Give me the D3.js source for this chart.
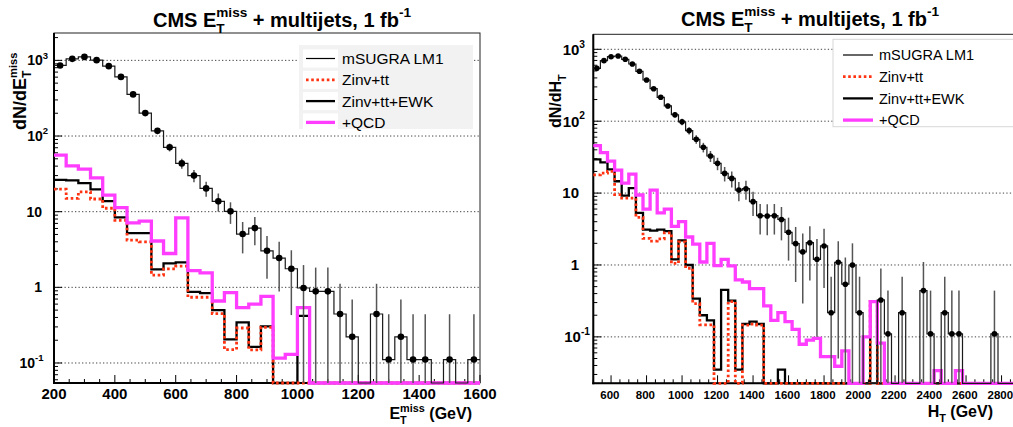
<!DOCTYPE html>
<html><head><meta charset="utf-8">
<script src="https://cdn.jsdelivr.net/npm/d3@7"></script>
<style>
body{margin:0;background:#fff}
svg{display:block}
text{font-family:"Liberation Sans",Arial,Helvetica,sans-serif;white-space:pre}
</style>
</head><body>
<svg id="c" width="1013" height="427"></svg>
<script>
// ---------------- DATA: left panel (MET), 40 GeV bins, lower edges ----------------
const etBins = [200,240,280,320,360,400,440,480,520,560,600,640,680,720,760,800,840,880,920,960,1000,1040,1080,1120,1160,1200,1240,1280,1320,1360,1400,1440,1480,1520,1560];
const etLM1 = [857,1047,1112,1006,838,605,355,201,117,71,43.5,30,20.3,13.7,10.1,5.06,6.07,3.04,2.44,1.76,0.98,0.885,0.885,0.444,0.222,0,0.444,0.111,0.222,0.111,0.111,0,0.111,0,0.111];
const etLM1Err = [29,32,33,32,29,25,19,14,11,8.4,6.6,5.5,4.5,3.7,3.2,2.25,2.46,1.74,1.56,1.33,0.99,0.94,0.94,0.67,0.47,0,0.67,0.33,0.47,0.33,0.33,0,0.33,0,0.33];
const etZinvTt = [19.9,15,18.3,14.7,11.1,7.7,4.2,4.0,1.45,1.75,1.91,0.74,0.74,0.45,0.15,0.29,0.149,0.296,0,0,0,0,0,0,0,0,0,0,0,0,0,0,0,0,0];
const etEWK = [26.4,25.9,23.9,19.7,13.8,8.4,5.2,5.2,1.73,2.07,2.14,0.87,0.84,0.5,0.205,0.345,0.163,0.305,0,0,0.42,0,0,0,0,0,0,0,0,0,0,0,0,0,0];
const etQCD = [56,40.4,36.5,28,16.6,11.3,7.1,7.5,4.1,2.8,8.3,1.66,1.55,0.66,0.85,0.54,0.6,0.76,0.116,0.13,0.54,0,0,0,0,0,0,0,0,0,0,0,0,0,0];

// ---------------- DATA: right panel (HT), 40 GeV bins, lower edges ----------------
const htBins = [500,540,580,620,660,700,740,780,820,860,900,940,980,1020,1060,1100,1140,1180,1220,1260,1300,1340,1380,1420,1460,1500,1540,1580,1620,1660,1700,1740,1780,1820,1860,1900,1940,1980,2020,2060,2100,2140,2180,2220,2260,2300,2340,2380,2420,2460,2500,2540,2580,2620,2660,2700,2740,2780,2820,2860];
const htLM1 = [544,695,789,807,726,625,494,374,283,215,163,123,98,74,56,43.4,32.8,25.9,18.8,16,11,11.5,7.6,4.85,4.8,4.85,4.3,2.85,1.98,1.52,2.04,1.2,1.84,0.217,1.09,0.54,1.0,0.217,0,0,0.326,0.11,0,0.217,0,0,0.44,0.11,0,0.217,0.11,0.11,0,0,0,0,0.11,0,0,0];
const htLM1Err = [23,26,28,28,27,25,22,19,17,15,13,11,10,8.6,7.5,6.6,5.7,5.1,4.3,4,3.3,3.4,2.8,2.2,2.2,2.2,2.1,1.7,1.4,1.23,1.43,1.1,1.36,0.47,1.04,0.73,1.0,0.47,0,0,0.57,0.33,0,0.47,0,0,0.66,0.33,0,0.47,0.33,0.33,0,0,0,0,0.33,0,0,0];
const htZinvTt = [17.9,19,20,9.5,8.5,8.5,4.6,2.35,2.15,2.3,2.8,1.05,2.1,0.9,0.29,0.147,0.147,0,0,0.31,0,0.146,0.15,0.146,0,0,0,0,0,0,0,0,0,0,0,0,0,0,0,0.31,0,0,0,0,0,0,0,0,0,0,0,0,0,0,0,0,0,0,0,0];
const htEWK = [29.5,26.8,21.4,14.6,9.2,11.7,5.3,3.1,3.0,3.1,2.95,1.2,2.2,1.0,0.34,0.2,0.17,0.035,0.45,0.32,0.035,0.151,0.163,0.151,0,0,0.035,0,0,0,0,0,0,0,0,0,0,0,0,0.31,0,0,0,0,0,0,0,0,0,0,0,0,0,0,0,0,0,0,0,0];
const htQCD = [45.6,36.5,27.9,20.9,13.8,18.4,9.4,6.0,11.0,5.3,6.0,3.45,4.0,2.45,1.95,1.1,2.0,0.98,1.2,0.97,0.62,0.58,0.47,0.47,0.27,0.17,0.217,0.163,0.127,0.079,0.09,0.095,0.053,0.053,0.039,0.064,0,0,0.1,0.31,0.082,0,0,0,0,0,0,0,0.034,0,0,0.034,0,0,0,0,0,0,0,0];

const binWidth = 40;
const legendLabels = ["mSUGRA LM1","Zinv+tt","Zinv+tt+EWK","+QCD"];
const etTicks = [200,400,600,800,1000,1200,1400,1600];
const htTicks = [600,800,1000,1200,1400,1600,1800,2000,2200,2400,2600,2800];
const decades = [0.1,1,10,100,1000];
const decadeLabels = [["10","-1"],["1",""],["10",""],["10","2"],["10","3"]];

// ---------------- styles ----------------
const RED = "#ff3311", MAG = "#ff3dff";
const svg = d3.select("#c");

function rich(parent, x, y, pieces, o) {
  const g = parent.append("g").attr("transform", `translate(${x},${y})${o.rotate ? ` rotate(${o.rotate})` : ""}`);
  const inner = g.append("g");
  let cx = 0, lastStart = 0;
  for (const p of pieces) {
    const s = o.size * (p.scale || 1);
    const sx = p.stack ? lastStart : cx;
    const t = inner.append("text").attr("x", sx).attr("y", (p.dy || 0) * o.size)
      .style("font-size", s + "px").style("font-weight", o.weight || "normal").attr("fill", "#000").text(p.t);
    const w = t.node().getComputedTextLength();
    if (p.stack) cx = Math.max(cx, sx + w);
    else { lastStart = sx; cx = sx + w; }
  }
  const off = o.anchor === "middle" ? -cx / 2 : o.anchor === "end" ? -cx : 0;
  inner.attr("transform", `translate(${off},0)`);
  return g;
}
const SUB = (t) => ({t, scale: 0.68, dy: 0.3});
const SUP = (t, stack, dy, sc) => ({t, scale: sc || 0.68, dy: dy || -0.48, stack: !!stack});

function drawPanel(P) {
  const {x, y, bins, left, right, top, bottom} = P;
  const g = svg.append("g");
  // grid
  decades.forEach(d => {
    g.append("line").attr("x1", left).attr("x2", right).attr("y1", y(d)).attr("y2", y(d))
      .attr("stroke", "#444").attr("stroke-width", 1).attr("stroke-dasharray", "1.3 2.2");
  });
  // frame
  g.append("rect").attr("x", left).attr("y", top).attr("width", right - left).attr("height", bottom - top)
    .attr("fill", "none").attr("stroke", "#222").attr("stroke-width", 1);
  g.append("line").attr("x1", left).attr("x2", left).attr("y1", top).attr("y2", bottom + 1).attr("stroke", "#000").attr("stroke-width", 2);
  g.append("line").attr("x1", left - 1).attr("x2", right).attr("y1", bottom).attr("y2", bottom).attr("stroke", "#000").attr("stroke-width", 2);
  // x ticks
  const [x0, x1] = x.domain();
  for (let v = Math.ceil(x0 / 50) * 50; v <= x1; v += 50) {
    const major = v % 200 === 0;
    g.append("line").attr("x1", x(v)).attr("x2", x(v)).attr("y1", bottom).attr("y2", bottom - (major ? 8 : 4))
      .attr("stroke", "#000").attr("stroke-width", 1);
  }
  P.xTicks.forEach(v => {
    g.append("text").attr("x", x(v) + P.xLabDx).attr("y", bottom + P.xLabDy).attr("text-anchor", "middle")
      .style("font-size", P.xLabSize + "px").style("font-weight", "bold").text(v);
  });
  // y ticks
  const [y0, y1] = y.domain();
  for (let e = Math.floor(Math.log10(y0)); e <= Math.ceil(Math.log10(y1)); e++) {
    for (let m = 1; m <= 9; m++) {
      const v = m * Math.pow(10, e);
      if (v < y0 || v > y1) continue;
      g.append("line").attr("x1", left).attr("x2", left + (m === 1 ? 8 : 4)).attr("y1", y(v)).attr("y2", y(v))
        .attr("stroke", "#000").attr("stroke-width", 1);
    }
  }
  decades.forEach((d, i) => {
    const [b, s] = decadeLabels[i];
    const pcs = s ? [{t: b}, SUP(s)] : [{t: b}];
    const xr = s === "-1" ? P.yLabNeg : (s ? P.yLabPow : P.yLabPlain);
    rich(g, xr, y(d) + P.yLabSize * 0.36, pcs, {size: P.yLabSize, weight: "bold", anchor: "end"});
  });

  // histograms
  const yv = v => v > 0 ? Math.min(y(v), bottom) : bottom;
  const hist = vals => {
    const pts = [];
    bins.forEach((lo, i) => { const yy = yv(vals[i]); pts.push([x(lo), yy], [x(lo + binWidth), yy]); });
    return d3.line()(pts);
  };
  g.append("path").attr("d", hist(P.ewk)).attr("fill", "none").attr("stroke", "#000").attr("stroke-width", 2.3);
  g.append("path").attr("d", hist(P.zinv)).attr("fill", "none").attr("stroke", RED).attr("stroke-width", 2.8).attr("stroke-dasharray", "2.6 2.6");
  g.append("path").attr("d", hist(P.qcd)).attr("fill", "none").attr("stroke", MAG).attr("stroke-width", 3.3);
  g.append("path").attr("d", hist(P.sig)).attr("fill", "none").attr("stroke", "#1a1a1a").attr("stroke-width", 1.2);
  bins.forEach((lo, i) => {
    const v = P.sig[i], e = P.sigErr[i];
    if (!(v > 0)) return;
    const cx = x(lo + binWidth / 2);
    const yt = y(v + e), yb = v - e > y0 ? y(v - e) : bottom;
    g.append("line").attr("x1", cx).attr("x2", cx).attr("y1", yt).attr("y2", yb).attr("stroke", "#555").attr("stroke-width", 1.5);
  });
  bins.forEach((lo, i) => {
    const v = P.sig[i];
    if (!(v > 0)) return;
    g.append("circle").attr("cx", x(lo + binWidth / 2)).attr("cy", y(v)).attr("r", P.markR).attr("fill", "#000");
  });

  // legend
  const L = P.legend;
  g.append("rect").attr("x", L.x).attr("y", L.y).attr("width", L.w).attr("height", L.h)
    .attr("fill", L.fill).attr("stroke", L.stroke).attr("stroke-width", 1);
  const styles = [
    {c: "#000", w: 1.2, d: null},
    {c: RED, w: 2.8, d: "2.6 2.6"},
    {c: "#000", w: 2.3, d: null},
    {c: MAG, w: 3.3, d: null}
  ];
  legendLabels.forEach((lab, i) => {
    const yy = L.y0 + L.dy * i;
    if (L.fill !== "#fff") g.append("rect").attr("x", L.sx0 - 3).attr("y", yy - 9).attr("width", L.sx1 - L.sx0 + 6).attr("height", 18).attr("fill", "#fff");
    g.append("line").attr("x1", L.sx0).attr("x2", L.sx1).attr("y1", yy).attr("y2", yy)
      .attr("stroke", styles[i].c).attr("stroke-width", styles[i].w).attr("stroke-dasharray", styles[i].d);
    g.append("text").attr("x", L.tx).attr("y", yy + L.size * 0.36).style("font-size", L.size + "px").text(lab);
  });
  return g;
}

// left panel
const xL = d3.scaleLinear().domain([200, 1600]).range([54, 480]);
const yL = d3.scaleLog().domain([0.0544, 2300]).range([383, 33]);
drawPanel({x: xL, y: yL, bins: etBins, left: 54, right: 480, top: 33, bottom: 383,
  sig: etLM1, sigErr: etLM1Err, zinv: etZinvTt, ewk: etEWK, qcd: etQCD,
  xTicks: etTicks, xLabDy: 16, xLabDx: 0, xLabSize: 15,
  yLabSize: 14, yLabPow: 48, yLabPlain: 42, yLabNeg: 43.5, markR: 3.3,
  legend: {x: 299, y: 45, w: 174, h: 84, fill: "#f2f2f2", stroke: "none", y0: 58.5, dy: 21.3, sx0: 306, sx1: 335, tx: 342, size: 15.5}
});
// right panel
const xR = d3.scaleLinear().domain([500, 2900]).range([593.3, 1019.3]);
const yR = d3.scaleLog().domain([0.0226, 1617]).range([383.3, 34.3]);
drawPanel({x: xR, y: yR, bins: htBins, left: 593.3, right: 1019.3, top: 34.3, bottom: 383.3,
  sig: htLM1, sigErr: htLM1Err, zinv: htZinvTt, ewk: htEWK, qcd: htQCD,
  xTicks: htTicks, xLabDy: 15.5, xLabDx: -1.2, xLabSize: 11.5,
  yLabSize: 15, yLabPow: 585, yLabPlain: 579, yLabNeg: 590, markR: 2.8,
  legend: {x: 833, y: 39.3, w: 200, h: 87.4, fill: "#fff", stroke: "#d8d8d8", y0: 55, dy: 21.7, sx0: 843, sx1: 873, tx: 879, size: 14.5}
});

// titles
rich(svg, 282, 27, [{t: "CMS E"}, SUB("T"), SUP("miss", true), {t: " + multijets, 1 fb"}, SUP("-1")], {size: 20, weight: "bold", anchor: "middle"});
rich(svg, 810, 26, [{t: "CMS E"}, SUB("T"), SUP("miss", true), {t: " + multijets, 1 fb"}, SUP("-1")], {size: 20, weight: "bold", anchor: "middle"});
// axis titles
rich(svg, 472, 419, [{t: "E"}, SUB("T"), SUP("miss", true, -0.42), {t: " (GeV)"}], {size: 16, weight: "bold", anchor: "end"});
rich(svg, 993, 417, [{t: "H"}, SUB("T"), {t: " (GeV)"}], {size: 16, weight: "bold", anchor: "end"});
rich(svg, 26, 130, [{t: "dN/dE"}, SUB("T"), SUP("miss", true, -0.48, 0.62)], {size: 18, weight: "bold", anchor: "start", rotate: -90});
rich(svg, 561, 128, [{t: "dN/dH"}, SUB("T")], {size: 16, weight: "bold", anchor: "start", rotate: -90});
</script>
</body></html>
